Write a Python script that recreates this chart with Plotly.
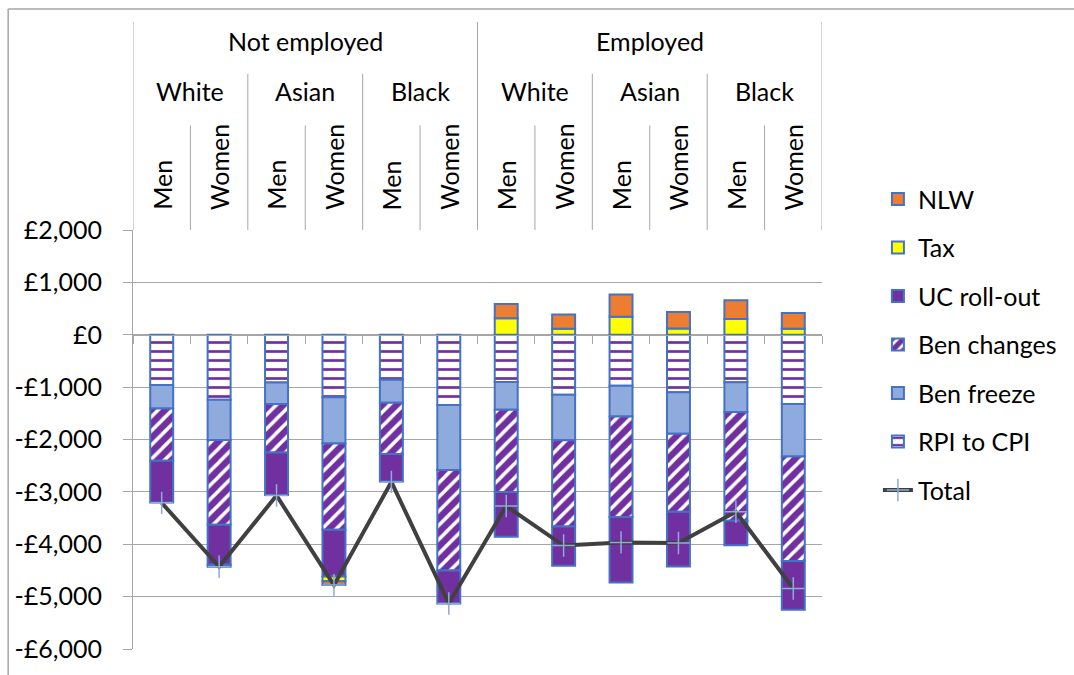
import plotly.graph_objects as go

status = ["Not employed"] * 6 + ["Employed"] * 6
ethnicity = ["White", "White", "Asian", "Asian", "Black", "Black"] * 2
sex = ["Men", "Women"] * 6
categories = [f"{a}|{b}|{c}" for a, b, c in zip(status, ethnicity, sex)]

rpi_to_cpi = [-960, -1240, -910, -1195, -860, -1340, -900, -1145, -975, -1100, -905, -1320]
ben_freeze = [-450, -770, -410, -880, -440, -1240, -530, -870, -585, -790, -570, -1005]
ben_changes = [-995, -1620, -930, -1650, -975, -1920, -1570, -1645, -1920, -1490, -2075, -1995]
uc_rollout = [-800, -760, -810, -890, -525, -630, -855, -750, -1250, -1045, -470, -930]
tax = [None, -40, None, -90, None, None, 315, 115, 345, 120, 300, 115]
nlw = [None, None, None, -75, None, None, 270, 270, 425, 315, 360, 300]
total = [-3210, -4430, -3070, -4780, -2810, -5130, -3270, -4025, -3965, -3975, -3380, -4845]

y_ticks = [2000, 1000, 0, -1000, -2000, -3000, -4000, -5000, -6000]
y_ticktext = [("-£" if v < 0 else "£") + f"{abs(v):,}" for v in y_ticks]

FONT = "Lato"
FS = 25
OUTLINE = "#4472C4"
PURPLE = "#7030A0"
GRID = "#A6A6A6"

fig = go.Figure()

def bar(name, vals, rank, color="white", pattern=None):
    marker = dict(color=color, line=dict(color=OUTLINE, width=2))
    if pattern:
        marker["pattern"] = pattern
    fig.add_trace(go.Bar(x=categories, y=vals, name=name, marker=marker,
                         width=0.4, legendrank=rank, legendgroup=name))

bar("RPI to CPI", rpi_to_cpi, 6, "white",
    dict(shape="-", fgcolor=PURPLE, bgcolor="white", size=9, solidity=0.3,
         fgopacity=1, fillmode="overlay"))
bar("Ben freeze", ben_freeze, 5, "#8FAADC")
bar("Ben changes", ben_changes, 4, "white",
    dict(shape="/", fgcolor=PURPLE, bgcolor="white", size=10, solidity=0.65,
         fgopacity=1, fillmode="overlay"))
bar("UC roll-out", uc_rollout, 3, PURPLE)
bar("Tax", tax, 2, "#FFFF00")
bar("NLW", nlw, 1, "#ED7D31")

fig.add_trace(go.Scatter(x=categories, y=total, name="Total", mode="lines+markers",
                         line=dict(color="#404040", width=4),
                         marker=dict(symbol="cross-thin", size=16,
                                     line=dict(color="#8FAADC", width=1.5)),
                         legendrank=7, legendgroup="Total"))

# plot area in pixels: x 133..823, y 230..651
def px_x(p):
    return (p - 133) / 690

def px_y(p):
    return (651 - p) / 421

annotations = []
for i, s in enumerate(sex):
    annotations.append(dict(x=i, y=px_y(212), xref="x", yref="paper", text=s,
                            textangle=-90, showarrow=False, xanchor="center",
                            yanchor="bottom", font=dict(family=FONT, size=FS, color="black")))
for i in range(0, 12, 2):
    annotations.append(dict(x=i + 0.5, y=px_y(90), xref="x", yref="paper", text=ethnicity[i],
                            showarrow=False, xanchor="center", yanchor="middle",
                            font=dict(family=FONT, size=FS, color="black")))
for i in (0, 6):
    annotations.append(dict(x=i + 2.5, y=px_y(40), xref="x", yref="paper", text=status[i],
                            showarrow=False, xanchor="center", yanchor="middle",
                            font=dict(family=FONT, size=FS, color="black")))

shapes = []
for xb in (-0.5, 5.5, 11.5):
    shapes.append(dict(type="line", xref="x", yref="paper", x0=xb, x1=xb, y0=1, y1=px_y(21),
                       line=dict(color=GRID, width=1)))
for xb in (1.5, 3.5, 7.5, 9.5):
    shapes.append(dict(type="line", xref="x", yref="paper", x0=xb, x1=xb, y0=1, y1=px_y(73),
                       line=dict(color=GRID, width=1)))
for xb in (0.5, 2.5, 4.5, 6.5, 8.5, 10.5):
    shapes.append(dict(type="line", xref="x", yref="paper", x0=xb, x1=xb, y0=1, y1=px_y(125),
                       line=dict(color=GRID, width=1)))
# outer chart border (top and left visible)
shapes.append(dict(type="line", xref="paper", yref="paper", x0=px_x(8), x1=px_x(1080),
                   y0=px_y(8), y1=px_y(8), line=dict(color=GRID, width=1.5)))
shapes.append(dict(type="line", xref="paper", yref="paper", x0=px_x(8), x1=px_x(8),
                   y0=px_y(8), y1=px_y(680), line=dict(color=GRID, width=1.5)))

fig.update_layout(
    width=1074, height=675,
    margin=dict(l=133, r=1074 - 823, t=230, b=675 - 651),
    paper_bgcolor="white", plot_bgcolor="white",
    barmode="relative",
    font=dict(family=FONT, size=FS, color="black"),
    showlegend=True,
    legend=dict(x=px_x(879), y=px_y(176), xanchor="left", yanchor="top",
                tracegroupgap=13, font=dict(family=FONT, size=FS, color="black"),
                itemwidth=30, bgcolor="rgba(0,0,0,0)", maxheight=600),
    annotations=annotations,
    shapes=shapes,
    xaxis=dict(type="category", categoryorder="array", categoryarray=categories,
               range=[-0.5, 11.5], showticklabels=False, showgrid=False,
               anchor="free", position=0.75, side="bottom",
               showline=True, linecolor=GRID, linewidth=1,
               ticks="outside", tickson="boundaries", ticklen=8, tickcolor=GRID),
    yaxis=dict(range=[-6000, 2000], tickvals=y_ticks, ticktext=y_ticktext,
               showgrid=True, gridcolor=GRID, gridwidth=1, zeroline=False,
               showline=True, linecolor=GRID, linewidth=1,
               ticks="outside", ticklen=9, tickcolor=GRID, ticklabelstandoff=16,
               tickfont=dict(family=FONT, size=FS, color="black")),
)

fig.write_html("out.html")
